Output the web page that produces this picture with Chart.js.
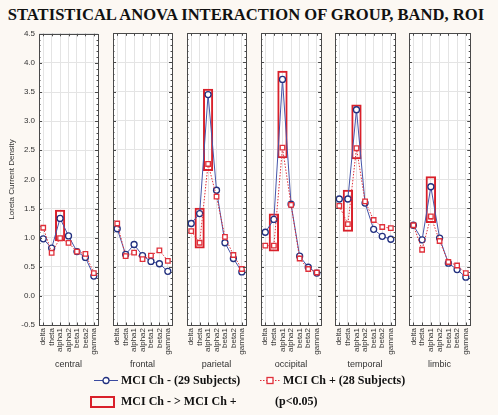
<!DOCTYPE html>
<html>
<head>
<meta charset="utf-8">
<script src="https://cdn.jsdelivr.net/npm/chart.js@4.4.1/dist/chart.umd.min.js"></script>
<style>
  body { margin:0; background:#fcf8f3; }
  #wrap { position:relative; width:498px; height:415px; overflow:hidden; font-family:"Liberation Sans", Arial, sans-serif; }
  .title { position:absolute; left:0; top:5px; width:492px; text-align:center; font-family:"Liberation Serif","Times New Roman",serif; font-weight:bold; font-size:16.6px; color:#111; white-space:nowrap; }
  .panel { position:absolute; top:28px; height:344px; }
  .leg { position:absolute; font-family:"Liberation Serif","Times New Roman",serif; font-weight:bold; font-size:12px; color:#111; white-space:nowrap; line-height:14px; }
</style>
</head>
<body>
<div id="wrap">
  <div class="title">STATISTICAL ANOVA INTERACTION OF GROUP, BAND, ROI</div>
  <div class="panel" id="p0" style="left:0px;width:107px;top:25px;height:347px"><canvas id="c0"></canvas></div>
  <div class="panel" id="p1" style="left:105px;width:76px"><canvas id="c1"></canvas></div>
  <div class="panel" id="p2" style="left:179px;width:76px"><canvas id="c2"></canvas></div>
  <div class="panel" id="p3" style="left:253px;width:77px"><canvas id="c3"></canvas></div>
  <div class="panel" id="p4" style="left:327px;width:77px"><canvas id="c4"></canvas></div>
  <div class="panel" id="p5" style="left:401px;width:78px"><canvas id="c5"></canvas></div>

  <svg style="position:absolute;left:94px;top:376px" width="24" height="9">
    <line x1="0" y1="4.5" x2="24" y2="4.5" stroke="#3a4aa0" stroke-width="1"/>
    <circle cx="12" cy="4.5" r="3" fill="#fff" stroke="#22307f" stroke-width="1.3"/>
  </svg>
  <div class="leg" style="left:121px;top:373px">MCI Ch - (29 Subjects)</div>
  <svg style="position:absolute;left:260px;top:376px" width="20" height="9">
    <line x1="0" y1="4.5" x2="20" y2="4.5" stroke="#e0303a" stroke-width="1" stroke-dasharray="1.5,1.5"/>
    <rect x="7" y="1.5" width="6" height="6" fill="#fff" stroke="#e0303a" stroke-width="1.3"/>
  </svg>
  <div class="leg" style="left:283px;top:373px">MCI Ch + (28 Subjects)</div>
  <svg style="position:absolute;left:90px;top:396px" width="25" height="12">
    <rect x="1" y="1" width="23" height="10" fill="none" stroke="#d9202a" stroke-width="2"/>
  </svg>
  <div class="leg" style="left:121px;top:394px">MCI Ch - &gt; MCI Ch +</div>
  <div class="leg" style="left:275px;top:394px">(p&lt;0.05)</div>
</div>
<script>
// bands on the x axis of every panel, one panel per region
var bands = ['delta', 'theta', 'alpha1', 'alpha2', 'beta1', 'beta2', 'gamma'];
var regions = ['central', 'frontal', 'parietal', 'occipital', 'temporal', 'limbic'];

// MCI Ch - (29 subjects)
var minusCentral   = [0.98, 0.82, 1.33, 1.03, 0.76, 0.66, 0.34];
var minusFrontal   = [1.15, 0.71, 0.88, 0.69, 0.59, 0.55, 0.42];
var minusParietal  = [1.24, 1.41, 3.45, 1.81, 0.91, 0.64, 0.41];
var minusOccipital = [1.09, 1.31, 3.71, 1.57, 0.68, 0.49, 0.39];
var minusTemporal  = [1.66, 1.66, 3.19, 1.59, 1.14, 1.02, 0.97];
var minusLimbic    = [1.21, 0.96, 1.87, 0.99, 0.56, 0.45, 0.32];

// MCI Ch + (28 subjects)
var plusCentral   = [1.17, 0.74, 0.99, 0.91, 0.76, 0.72, 0.39];
var plusFrontal   = [1.24, 0.68, 0.74, 0.63, 0.69, 0.78, 0.60];
var plusParietal  = [1.11, 0.91, 2.26, 1.70, 1.01, 0.70, 0.46];
var plusOccipital = [0.86, 0.86, 2.54, 1.56, 0.64, 0.46, 0.40];
var plusTemporal  = [1.54, 1.23, 2.53, 1.62, 1.30, 1.18, 1.16];
var plusLimbic    = [1.21, 0.79, 1.36, 0.94, 0.58, 0.52, 0.39];

// significant boxes (MCI Ch - > MCI Ch +, p<0.05): [low, high]
var boxCentral   = [null, null, [0.94, 1.48], null, null, null, null];
var boxFrontal   = [null, null, null, null, null, null, null];
var boxParietal  = [null, [0.81, 1.51], [2.14, 3.55], null, null, null, null];
var boxOccipital = [null, [0.76, 1.41], [2.36, 3.86], null, null, null, null];
var boxTemporal  = [null, [1.10, 1.82], [2.34, 3.28], null, null, null, null];
var boxLimbic    = [null, null, [1.25, 2.05], null, null, null, null];

var minusData = [minusCentral, minusFrontal, minusParietal, minusOccipital, minusTemporal, minusLimbic];
var plusData = [plusCentral, plusFrontal, plusParietal, plusOccipital, plusTemporal, plusLimbic];
var boxData = [boxCentral, boxFrontal, boxParietal, boxOccipital, boxTemporal, boxLimbic];

// white plot area + dark frame with little inward ticks
var framePlugin = {
  id: 'frame',
  beforeDraw: function(chart) {
    var a = chart.chartArea, c = chart.ctx;
    c.save();
    c.fillStyle = '#ffffff';
    c.fillRect(a.left, a.top, a.right - a.left, a.bottom - a.top);
    c.restore();
  },
  afterDraw: function(chart) {
    var a = chart.chartArea, c = chart.ctx;
    var ys = chart.scales.y, xs = chart.scales.x;
    c.save();
    c.strokeStyle = '#4a4a4a';
    c.lineWidth = 1;
    c.beginPath();
    for (var v = -0.5; v <= 4.5001; v += 0.1) {
      var py = Math.round(ys.getPixelForValue(v)) + 0.5;
      var len = (Math.abs(v * 2 - Math.round(v * 2)) < 0.01) ? 3 : 1.5;
      c.moveTo(a.left, py); c.lineTo(a.left + len, py);
      c.moveTo(a.right, py); c.lineTo(a.right - len, py);
    }
    for (var i = 0; i < bands.length; i++) {
      var px = Math.round(xs.getPixelForValue(i)) + 0.5;
      c.moveTo(px, a.top); c.lineTo(px, a.top + 2.5);
      c.moveTo(px, a.bottom); c.lineTo(px, a.bottom - 2.5);
    }
    c.stroke();
    c.strokeRect(Math.round(a.left) + 0.5, Math.round(a.top) + 0.5,
                 Math.round(a.right - a.left), Math.round(a.bottom - a.top));
    c.restore();
  }
};

function makePanel(i) {
  var first = (i === 0);
  var ctx = document.getElementById('c' + i);
  return new Chart(ctx, {
    type: 'line',
    data: {
      labels: bands,
      datasets: [{
        type: 'bar',
        data: boxData[i],
        backgroundColor: 'rgba(0,0,0,0)',
        borderColor: '#d9202a',
        borderWidth: 2,
        borderSkipped: false,
        barPercentage: 1,
        categoryPercentage: 1.2,
        order: 3
      }, {
        label: 'MCI Ch - (29 Subjects)',
        data: minusData[i],
        borderColor: '#4656aa',
        borderWidth: 1,
        pointStyle: 'circle',
        pointRadius: 3,
        pointBorderWidth: 1.3,
        pointBackgroundColor: '#ffffff',
        pointBorderColor: '#22307f',
        tension: 0,
        order: 2
      }, {
        label: 'MCI Ch + (28 Subjects)',
        data: plusData[i],
        borderColor: '#e0303a',
        borderWidth: 1,
        borderDash: [1.5, 1.5],
        pointStyle: 'rect',
        pointRadius: 3.2,
        pointBorderWidth: 1.3,
        pointBackgroundColor: '#ffffff',
        pointBorderColor: '#e0303a',
        tension: 0,
        order: 1
      }]
    },
    options: {
      responsive: true,
      maintainAspectRatio: false,
      animation: false,
      layout: { padding: { top: 3, bottom: 0, left: first ? 0 : 8, right: 8 } },
      plugins: { legend: { display: false }, tooltip: { enabled: false } },
      scales: {
        x: {
          type: 'category',
          offset: true,
          grid: { color: '#e4e4e4', drawTicks: false, offset: false },
          border: { display: false },
          ticks: { autoSkip: false, minRotation: 90, maxRotation: 90, padding: 3,
                   color: '#333', font: { family: 'Liberation Sans', size: 8 } },
          title: { display: true, text: regions[i], color: '#333',
                   font: { family: 'Liberation Sans', size: 9 }, padding: { top: 0, bottom: 2 } },
          afterFit: function(s) { s.height = 47; }
        },
        y: {
          min: -0.5, max: 4.5,
          grid: { color: '#e4e4e4', drawTicks: false },
          border: { display: false },
          ticks: { display: first, stepSize: 0.5, padding: 4, color: '#333',
                   font: { family: 'Liberation Sans', size: 8 },
                   callback: function(v) { return Number(v).toFixed(1); } },
          title: { display: first, text: 'Loreta Current Density', color: '#333',
                   font: { family: 'Liberation Sans', size: 8 }, padding: { top: 7, bottom: 0 } },
          afterFit: function(s) { s.width = first ? 39 : 0; }
        }
      }
    },
    plugins: [framePlugin]
  });
}

for (var i = 0; i < regions.length; i++) {
  makePanel(i);
}
</script>
</body>
</html>
